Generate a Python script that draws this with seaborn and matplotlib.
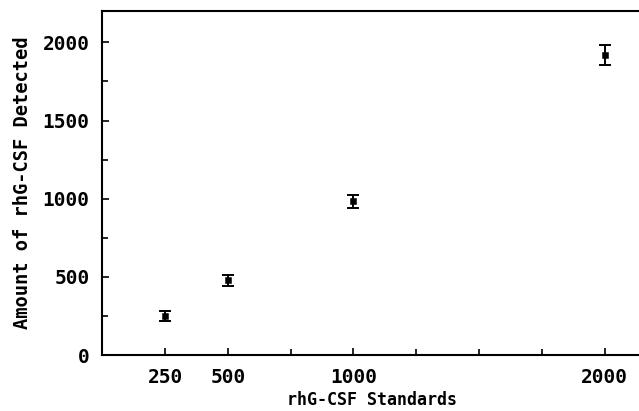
import numpy as np
import matplotlib
matplotlib.use("Agg")
import matplotlib.pyplot as plt
import pandas as pd
import seaborn as sns

# values
standards = [250, 500, 1000, 2000]
detected = [250, 480, 983, 1918]
err = [32, 35, 40, 64]
x_labelled = [250, 500, 1000, 2000]
x_unlabelled = [750, 1250, 1500, 1750]

sns.set_style("white")
plt.rcParams['font.family'] = ['DejaVu Sans Mono', 'DejaVu Sans']
plt.rcParams['font.weight'] = 'bold'
plt.rcParams['axes.labelweight'] = 'bold'
plt.rcParams['text.color'] = 'black'
plt.rcParams['axes.labelcolor'] = 'black'
plt.rcParams['xtick.color'] = 'black'
plt.rcParams['ytick.color'] = 'black'

df = pd.DataFrame({'std': standards, 'det': detected, 'err': err})

fig = plt.figure(figsize=(6.39, 4.11), dpi=100)
ax = fig.add_axes([0.16, 0.136, 0.845, 0.837])

ax.errorbar(df['std'], df['det'], yerr=df['err'], fmt='none',
            ecolor='black', elinewidth=1.4, capsize=4, capthick=1.4)
sns.scatterplot(x='std', y='det', data=df, ax=ax, color='black',
                marker='s', s=22, edgecolor='black', zorder=3)

ax.set_xlim(0, 2150)
ax.set_ylim(0, 2200)
ax.set_xticks(x_labelled)
ax.set_xticklabels([str(v) for v in x_labelled])
ax.set_xticks(x_unlabelled, minor=True)
ax.set_yticks([0, 500, 1000, 1500, 2000])
ax.set_yticks([250, 750, 1250, 1750], minor=True)
ax.tick_params(axis='both', which='both', direction='in', length=5,
               width=1.2, color='black', labelsize=14,
               bottom=True, left=True, top=False, right=False)
ax.tick_params(axis='both', which='minor', length=4)
ax.tick_params(axis='x', pad=9)
ax.tick_params(axis='y', pad=9)

for side in ['left', 'bottom', 'top']:
    ax.spines[side].set_visible(True)
    ax.spines[side].set_color('black')
    ax.spines[side].set_linewidth(1.5)
ax.spines['right'].set_visible(False)

ax.set_xlabel('rhG-CSF Standards', fontsize=12, labelpad=3)
ax.set_ylabel('Amount of rhG-CSF Detected', fontsize=13.5, labelpad=8)

fig.savefig('out.png', dpi=100)
